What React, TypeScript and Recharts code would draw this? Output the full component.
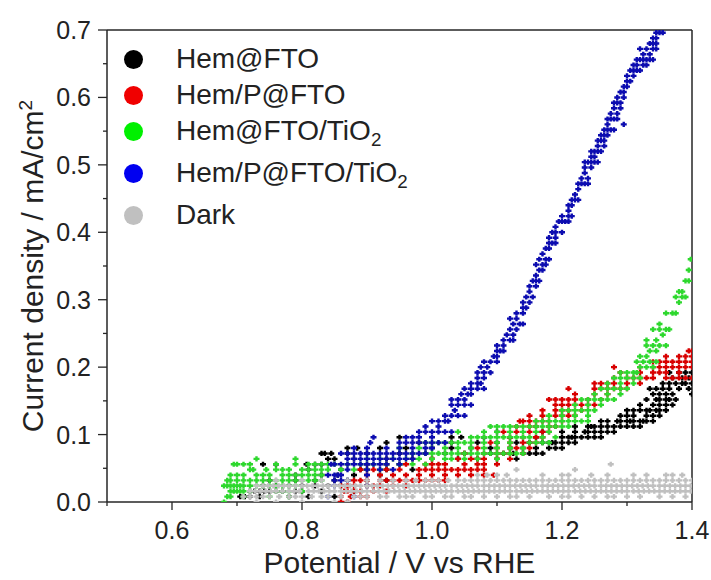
import React from "react";
import { ScatterChart, Scatter, XAxis, YAxis, ReferenceLine } from "recharts";

const FONT = "Arial, 'Liberation Sans', sans-serif";
const AXIS = "#262626";

const X_TICKS = [0.5, 0.6, 0.7, 0.8, 0.9, 1.0, 1.1, 1.2, 1.3, 1.4];
const Y_TICKS = [0, 0.05, 0.1, 0.15, 0.2, 0.25, 0.3, 0.35, 0.4, 0.45, 0.5, 0.55, 0.6, 0.65, 0.7];

const SERIES_NAMES = ["Hem@FTO", "Hem/P@FTO", "Hem@FTO/TiO2", "Hem/P@FTO/TiO2", "Dark"];
const MARKER_COLORS = ["#000000", "#d80000", "#2ed82e", "#0c0cb0", "#c0c0c0"];
const LEGEND_COLORS = ["#000000", "#f00000", "#00f000", "#0000f0", "#c0c0c0"];

// each row: [current density level, potentials read at that level]
const hemFto: [number, number[]][] = [
  [0.008, [0.705, 0.712, 0.72, 0.735, 0.78, 0.81, 0.85]],
  [0.016, [0.72, 0.727, 0.735, 0.742, 0.75, 0.76, 0.77, 0.79, 0.8, 0.83, 0.88]],
  [0.024, [0.74, 0.76, 0.78, 0.8, 0.82, 0.84, 0.86, 0.9]],
  [0.032, [0.75, 0.79, 0.82, 0.85, 0.87, 0.9, 0.93]],
  [0.04, [0.79, 0.83, 0.855, 0.88, 0.92]],
  [0.048, [0.81, 0.86, 0.89, 0.93, 0.97]],
  [0.056, [0.74, 0.76, 0.807, 0.82, 0.83, 0.9, 0.95]],
  [0.064, [0.84, 0.85, 0.88, 0.93, 0.97, 1.0, 1.04, 1.07, 1.1, 1.13]],
  [0.072, [0.83, 0.835, 0.845, 0.87, 0.9, 0.95, 0.99, 1.02, 1.05, 1.09, 1.11, 1.125, 1.14, 1.15, 1.16, 1.17]],
  [0.08, [0.87, 0.885, 0.92, 0.96, 1.0, 1.03, 1.06, 1.09, 1.12, 1.14, 1.16, 1.18, 1.19, 1.2]],
  [0.088, [0.93, 0.98, 1.03, 1.07, 1.1, 1.13, 1.15, 1.17, 1.18, 1.185, 1.19, 1.2, 1.21, 1.22]],
  [0.096, [0.95, 1.03, 1.045, 1.08, 1.12, 1.16, 1.2, 1.21, 1.215, 1.22, 1.23, 1.24, 1.25, 1.26]],
  [0.104, [1.1, 1.17, 1.2, 1.22, 1.235, 1.24, 1.25, 1.26, 1.27, 1.28]],
  [0.112, [1.22, 1.24, 1.245, 1.25, 1.26, 1.27, 1.28, 1.29, 1.3, 1.31, 1.32]],
  [0.12, [1.26, 1.27, 1.285, 1.29, 1.3, 1.305, 1.31, 1.32, 1.325, 1.33, 1.34]],
  [0.128, [1.29, 1.3, 1.31, 1.33, 1.34, 1.35]],
  [0.136, [1.3, 1.31, 1.32, 1.33, 1.335, 1.345, 1.35, 1.36]],
  [0.144, [1.32, 1.34, 1.35, 1.36, 1.37]],
  [0.152, [1.33, 1.345, 1.35, 1.36, 1.365, 1.375]],
  [0.16, [1.34, 1.35, 1.36, 1.37, 1.4]],
  [0.168, [1.335, 1.345, 1.355, 1.365, 1.38, 1.395]],
  [0.176, [1.355, 1.365, 1.375, 1.385, 1.39, 1.4]],
  [0.184, [1.37, 1.385, 1.395, 1.4]],
  [0.192, [1.365, 1.38, 1.39, 1.4]],
];

const hemPFto: [number, number[]][] = [
  [0.0, [0.86, 0.87]],
  [0.008, [0.86, 0.875, 0.89, 0.9]],
  [0.016, [0.865, 0.87, 0.88, 0.89, 0.91, 0.93]],
  [0.024, [0.86, 0.87, 0.88, 0.9, 0.91, 0.92, 0.94, 0.96]],
  [0.032, [0.88, 0.89, 0.9, 0.92, 0.93, 0.94, 0.95, 0.96, 0.97, 0.98, 0.99, 1.0, 1.01, 1.02]],
  [0.04, [0.9, 0.92, 0.94, 0.96, 0.98, 1.0, 1.02, 1.04, 1.06, 1.08, 1.095]],
  [0.048, [0.89, 0.9, 0.91, 0.93, 0.95, 0.98, 0.99, 1.0, 1.01, 1.02, 1.03, 1.04, 1.05, 1.06, 1.07, 1.08]],
  [0.056, [0.93, 0.96, 0.99, 1.0, 1.01, 1.02, 1.05, 1.07, 1.08, 1.1]],
  [0.064, [1.0, 1.04, 1.06, 1.07, 1.08, 1.1, 1.12]],
  [0.072, [1.05, 1.08, 1.1, 1.11, 1.12, 1.14]],
  [0.08, [1.07, 1.1, 1.12, 1.13, 1.15]],
  [0.088, [1.09, 1.12, 1.14, 1.15, 1.16]],
  [0.096, [1.12, 1.14, 1.16, 1.17]],
  [0.104, [1.11, 1.13, 1.15, 1.17, 1.18]],
  [0.112, [1.13, 1.15, 1.16, 1.18, 1.19]],
  [0.12, [1.135, 1.14, 1.15, 1.16, 1.17, 1.18, 1.2]],
  [0.128, [1.15, 1.17, 1.19, 1.2, 1.21, 1.22]],
  [0.136, [1.17, 1.19, 1.2, 1.21, 1.23]],
  [0.144, [1.19, 1.2, 1.21, 1.22, 1.23, 1.24, 1.25]],
  [0.152, [1.18, 1.19, 1.2, 1.21, 1.22, 1.24, 1.26]],
  [0.16, [1.22, 1.25, 1.27]],
  [0.168, [1.21, 1.25, 1.26, 1.27, 1.28, 1.29, 1.3]],
  [0.176, [1.25, 1.26, 1.27, 1.28, 1.3, 1.32]],
  [0.184, [1.28, 1.3, 1.31, 1.32, 1.33, 1.34, 1.36, 1.37, 1.38, 1.39, 1.4]],
  [0.192, [1.29, 1.32, 1.34, 1.35, 1.36, 1.38]],
  [0.2, [1.28, 1.32, 1.34, 1.35, 1.36, 1.37, 1.38, 1.39, 1.4]],
  [0.208, [1.34, 1.35, 1.36, 1.37, 1.38, 1.39, 1.4]],
  [0.216, [1.36, 1.38, 1.39, 1.4]],
  [0.224, [1.395, 1.4]],
];

const hemFtoTiO2: [number, number[]][] = [
  [0.0, [0.68]],
  [0.008, [0.685, 0.69, 0.71, 0.75, 0.78]],
  [0.016, [0.69, 0.695, 0.7, 0.705, 0.71, 0.72, 0.76, 0.77, 0.78, 0.8]],
  [0.024, [0.68, 0.685, 0.69, 0.695, 0.7, 0.705, 0.71, 0.72, 0.73, 0.74, 0.75, 0.76, 0.77, 0.78, 0.79]],
  [0.032, [0.685, 0.69, 0.7, 0.71, 0.72, 0.73, 0.74, 0.75, 0.76, 0.77, 0.78, 0.79, 0.8, 0.81, 0.82, 0.83]],
  [0.04, [0.69, 0.7, 0.71, 0.73, 0.74, 0.75, 0.77, 0.78, 0.79, 0.8, 0.81, 0.82, 0.83]],
  [0.048, [0.72, 0.725, 0.745, 0.76, 0.77, 0.78, 0.8, 0.81, 0.82, 0.83, 0.84, 0.86, 0.88, 0.9, 0.92]],
  [0.056, [0.695, 0.7, 0.71, 0.72, 0.76, 0.79, 0.81, 0.82, 0.83, 0.84, 0.85, 0.87, 0.89, 0.91, 0.93, 0.95, 0.97, 0.99]],
  [0.064, [0.73, 0.79, 0.9, 0.92, 0.94, 0.96, 0.98, 1.0, 1.02, 1.03, 1.05, 1.07, 1.1]],
  [0.072, [0.97, 0.99, 1.0, 1.01, 1.02, 1.03, 1.04, 1.05, 1.06, 1.07, 1.08, 1.09, 1.1, 1.11, 1.12, 1.13, 1.14]],
  [0.08, [0.95, 0.98, 1.0, 1.02, 1.04, 1.06, 1.08, 1.1, 1.12, 1.14]],
  [0.088, [0.99, 1.0, 1.01, 1.02, 1.03, 1.04, 1.05, 1.06, 1.08, 1.1, 1.12, 1.15, 1.16, 1.17, 1.18]],
  [0.096, [1.06, 1.07, 1.08, 1.09, 1.1, 1.11, 1.12, 1.13, 1.14, 1.15, 1.17, 1.19]],
  [0.104, [1.04, 1.08, 1.1, 1.12, 1.14, 1.16, 1.18]],
  [0.112, [1.09, 1.1, 1.11, 1.12, 1.13, 1.14, 1.15, 1.16, 1.17, 1.18, 1.19, 1.2, 1.21]],
  [0.12, [1.16, 1.17, 1.18, 1.19, 1.2, 1.21, 1.22, 1.23, 1.24]],
  [0.128, [1.18, 1.2, 1.22, 1.24]],
  [0.136, [1.2, 1.21, 1.22, 1.23, 1.24, 1.25]],
  [0.144, [1.22, 1.24, 1.26]],
  [0.152, [1.23, 1.24, 1.25, 1.26, 1.27, 1.28]],
  [0.16, [1.25, 1.27, 1.29]],
  [0.168, [1.26, 1.27, 1.28, 1.29, 1.3]],
  [0.176, [1.27, 1.29, 1.31]],
  [0.184, [1.28, 1.29, 1.3, 1.31, 1.32]],
  [0.192, [1.29, 1.3, 1.31, 1.315]],
  [0.2, [1.32, 1.33, 1.34]],
  [0.208, [1.315, 1.325, 1.335, 1.345]],
  [0.216, [1.32, 1.33]],
  [0.224, [1.335, 1.345]],
  [0.232, [1.33, 1.34, 1.35, 1.36]],
  [0.24, [1.33, 1.345]],
  [0.248, [1.355]],
  [0.256, [1.34, 1.35, 1.36, 1.365]],
  [0.264, [1.35]],
  [0.28, [1.36, 1.37, 1.375]],
  [0.296, [1.38]],
  [0.304, [1.375, 1.385, 1.39]],
  [0.312, [1.38, 1.385]],
  [0.328, [1.39, 1.395]],
  [0.344, [1.395]],
  [0.36, [1.398]],
];

const hemPFtoTiO2: [number, number[]][] = [
  [0.008, [0.84, 0.88]],
  [0.024, [0.85, 0.9]],
  [0.032, [0.85, 0.86, 0.87]],
  [0.04, [0.84, 0.85, 0.855, 0.86, 0.9]],
  [0.048, [0.87, 0.9, 0.92, 0.94]],
  [0.056, [0.845, 0.85, 0.86, 0.87, 0.88, 0.89, 0.9, 0.91, 0.92, 0.93, 0.95]],
  [0.064, [0.87, 0.88, 0.89, 0.9, 0.91, 0.92, 0.93, 0.94, 0.95, 0.96, 0.97]],
  [0.072, [0.86, 0.87, 0.88, 0.89, 0.9, 0.91, 0.92, 0.93, 0.94, 0.95, 0.96, 0.97, 0.98, 0.99]],
  [0.08, [0.88, 0.9, 0.93, 0.95, 0.97, 0.99, 1.0]],
  [0.088, [0.905, 0.95, 0.96, 0.97, 0.98, 0.99, 1.0, 1.01, 1.02]],
  [0.096, [0.91, 0.96, 0.97, 0.98, 1.0]],
  [0.104, [0.98, 0.99, 1.0, 1.01, 1.02, 1.03]],
  [0.112, [0.99, 1.01]],
  [0.12, [1.0, 1.01, 1.02, 1.025]],
  [0.128, [1.02, 1.03, 1.04, 1.05]],
  [0.136, [1.035]],
  [0.144, [1.03, 1.04, 1.05, 1.06]],
  [0.152, [1.03, 1.04, 1.05]],
  [0.16, [1.045, 1.055, 1.06]],
  [0.168, [1.05, 1.06, 1.07, 1.08]],
  [0.176, [1.06, 1.07, 1.075]],
  [0.184, [1.07, 1.08]],
  [0.192, [1.07, 1.08, 1.09]],
  [0.2, [1.075, 1.085]],
  [0.208, [1.08, 1.09, 1.1]],
  [0.216, [1.095, 1.1]],
  [0.224, [1.1, 1.105, 1.11]],
  [0.232, [1.1, 1.11]],
  [0.24, [1.11, 1.12, 1.125]],
  [0.248, [1.115, 1.125]],
  [0.256, [1.12, 1.13]],
  [0.264, [1.125, 1.135, 1.14]],
  [0.272, [1.12, 1.13]],
  [0.28, [1.13, 1.14]],
  [0.288, [1.14, 1.145]],
  [0.296, [1.14, 1.15]],
  [0.304, [1.145, 1.155]],
  [0.312, [1.15]],
  [0.32, [1.15, 1.16]],
  [0.328, [1.155, 1.16, 1.165]],
  [0.336, [1.16]],
  [0.344, [1.165, 1.17]],
  [0.352, [1.16, 1.17, 1.175]],
  [0.36, [1.165, 1.175, 1.18]],
  [0.368, [1.17]],
  [0.376, [1.175, 1.18]],
  [0.384, [1.18, 1.185, 1.19]],
  [0.392, [1.18, 1.19]],
  [0.4, [1.185, 1.19, 1.2]],
  [0.408, [1.19]],
  [0.416, [1.195, 1.2, 1.205, 1.21]],
  [0.424, [1.2, 1.21, 1.215]],
  [0.432, [1.21]],
  [0.44, [1.21, 1.215]],
  [0.448, [1.215, 1.22, 1.225]],
  [0.456, [1.22]],
  [0.464, [1.225]],
  [0.472, [1.225, 1.23, 1.235, 1.24]],
  [0.48, [1.23, 1.24]],
  [0.488, [1.235]],
  [0.496, [1.235, 1.245]],
  [0.504, [1.235, 1.24, 1.245, 1.25, 1.255]],
  [0.512, [1.245, 1.25]],
  [0.52, [1.245, 1.25, 1.255, 1.26]],
  [0.528, [1.255, 1.265]],
  [0.536, [1.255, 1.26, 1.265]],
  [0.544, [1.26, 1.265, 1.27]],
  [0.552, [1.265, 1.27, 1.275, 1.28]],
  [0.56, [1.27, 1.295]],
  [0.568, [1.27, 1.275, 1.28, 1.285]],
  [0.576, [1.275, 1.285]],
  [0.584, [1.28, 1.29]],
  [0.592, [1.28, 1.285, 1.29]],
  [0.6, [1.285, 1.295]],
  [0.608, [1.29, 1.295]],
  [0.616, [1.295, 1.3]],
  [0.624, [1.3, 1.305]],
  [0.632, [1.3, 1.31]],
  [0.64, [1.305, 1.31, 1.315, 1.32]],
  [0.648, [1.31, 1.315, 1.325, 1.33]],
  [0.656, [1.315, 1.32, 1.325, 1.33, 1.335, 1.34]],
  [0.664, [1.325, 1.335]],
  [0.672, [1.32, 1.33, 1.34, 1.345]],
  [0.68, [1.335, 1.34, 1.345]],
  [0.688, [1.34, 1.345]],
  [0.696, [1.345, 1.35, 1.355]],
];

const dark: [number, number[]][] = [
  [0.0, [0.73, 0.76, 0.8, 0.85, 0.87]],
  [0.008, [0.71, 0.72, 0.73, 0.74, 0.75, 0.765, 0.78, 0.79, 0.8, 0.815, 0.83, 0.84, 0.86, 0.88, 0.89, 0.9, 0.92, 0.93, 0.95, 0.96, 0.97, 0.99, 1.0, 1.02, 1.03, 1.05, 1.06, 1.08, 1.1, 1.12, 1.13, 1.15, 1.18, 1.2, 1.21, 1.23, 1.25, 1.27, 1.28, 1.3, 1.32, 1.35, 1.37, 1.39]],
  [0.016, [0.72, 0.728, 0.736, 0.744, 0.752, 0.76, 0.77, 0.78, 0.788, 0.796, 0.81, 0.818, 0.826, 0.834, 0.842, 0.85, 0.86, 0.868, 0.876, 0.884, 0.892, 0.9, 0.91, 0.918, 0.926, 0.934, 0.942, 0.95, 0.958, 0.966, 0.974, 0.982, 0.99, 0.998, 1.006, 1.014, 1.022, 1.03, 1.04, 1.048, 1.056, 1.064, 1.072, 1.08, 1.088, 1.096, 1.104, 1.112, 1.12, 1.13, 1.138, 1.146, 1.154, 1.162, 1.17, 1.178, 1.186, 1.194, 1.202, 1.21, 1.22, 1.228, 1.236, 1.244, 1.252, 1.26, 1.268, 1.276, 1.284, 1.292, 1.3, 1.31, 1.318, 1.326, 1.334, 1.342, 1.35, 1.358, 1.366, 1.374, 1.382, 1.39, 1.398]],
  [0.024, [0.73, 0.74, 0.748, 0.756, 0.764, 0.772, 0.78, 0.79, 0.8, 0.808, 0.816, 0.824, 0.832, 0.84, 0.85, 0.858, 0.866, 0.874, 0.882, 0.89, 0.9, 0.908, 0.916, 0.924, 0.932, 0.94, 0.948, 0.956, 0.964, 0.972, 0.98, 0.988, 0.996, 1.004, 1.012, 1.02, 1.03, 1.038, 1.046, 1.054, 1.062, 1.07, 1.08, 1.088, 1.096, 1.104, 1.112, 1.12, 1.128, 1.136, 1.144, 1.152, 1.16, 1.17, 1.178, 1.186, 1.194, 1.202, 1.21, 1.218, 1.226, 1.234, 1.242, 1.25, 1.26, 1.268, 1.276, 1.284, 1.292, 1.3, 1.308, 1.316, 1.324, 1.332, 1.34, 1.35, 1.358, 1.366, 1.374, 1.382, 1.39, 1.398]],
  [0.032, [0.76, 0.8, 0.83, 0.87, 0.9, 0.92, 0.94, 0.96, 0.975, 0.99, 1.0, 1.01, 1.025, 1.04, 1.05, 1.06, 1.07, 1.08, 1.09, 1.1, 1.11, 1.12, 1.13, 1.14, 1.15, 1.16, 1.17, 1.18, 1.19, 1.2, 1.21, 1.22, 1.23, 1.24, 1.25, 1.26, 1.27, 1.28, 1.29, 1.3, 1.31, 1.32, 1.33, 1.34, 1.35, 1.36, 1.37, 1.38, 1.39, 1.4]],
  [0.04, [1.07, 1.085, 1.1, 1.115, 1.17, 1.2, 1.21, 1.245, 1.27, 1.31, 1.33, 1.36, 1.37, 1.385]],
  [0.048, [1.13, 1.22]],
  [0.056, [1.275]],
];

const SERIES_ROWS = [hemFto, hemPFto, hemFtoTiO2, hemPFtoTiO2, dark];

const toPoints = (rows: [number, number[]][]) =>
  rows.flatMap(([y, xs]) => xs.map((x) => ({ x, y })));

const Cross = (props: any) => {
  const { cx, cy, fill } = props;
  if (cx == null || cy == null) return null;
  return (
    <path
      d={`M${cx - 3},${cy - 1.2}h6v2.4h-6z M${cx - 1.2},${cy - 2.6}h2.4v5.2h-2.4z`}
      fill={fill}
    />
  );
};

const XTick = (props: any) => {
  const { x, y, payload } = props;
  const major = Math.round(payload.value * 10) % 2 === 0;
  return (
    <g>
      <line x1={x} x2={x} y1={y} y2={y + (major ? 8 : 4)} stroke={AXIS} strokeWidth={1.3} />
      {major && (
        <text x={x} y={y + 37} textAnchor="middle" fontSize={25} fontFamily={FONT} fill="#222">
          {payload.value.toFixed(1)}
        </text>
      )}
    </g>
  );
};

const YTick = (props: any) => {
  const { x, y, payload } = props;
  const major = Math.round(payload.value * 100) % 10 === 0;
  return (
    <g>
      <line x1={x} x2={x - (major ? 9 : 4)} y1={y} y2={y} stroke={AXIS} strokeWidth={1.3} />
      {major && (
        <text x={x - 16} y={y + 9} textAnchor="end" fontSize={25} fontFamily={FONT} fill="#222">
          {payload.value.toFixed(1)}
        </text>
      )}
    </g>
  );
};

const YLabel = (props: any) => {
  const { viewBox } = props;
  const x = viewBox.x + 43;
  const y = viewBox.y + viewBox.height / 2;
  return (
    <text
      x={x}
      y={y}
      transform={`rotate(-90, ${x}, ${y})`}
      textAnchor="middle"
      fontSize={30}
      fontFamily={FONT}
      fill="#222"
    >
      Current density / mA/cm<tspan dy={-11} fontSize={19}>2</tspan>
    </text>
  );
};

const XLabel = (props: any) => {
  const { viewBox } = props;
  return (
    <text
      x={viewBox.x + viewBox.width / 2}
      y={viewBox.y + 71}
      textAnchor="middle"
      fontSize={30}
      fontFamily={FONT}
      fill="#222"
    >
      Potential / V vs RHE
    </text>
  );
};

const renderName = (name: string) =>
  name.endsWith("TiO2") ? (
    <>
      {name.slice(0, -1)}
      <span style={{ fontSize: "0.67em", position: "relative", top: "0.3em" }}>2</span>
    </>
  ) : (
    name
  );

const LEGEND_Y = [59, 95, 131, 173, 215];

export default function App() {
  return (
    <div style={{ position: "absolute", left: 0, top: 0, width: 711, height: 580, background: "#fff" }}>
      <ScatterChart width={711} height={580} margin={{ top: 30, right: 19, bottom: 0, left: 0 }}>
        <XAxis
          type="number"
          dataKey="x"
          domain={[0.5, 1.4]}
          ticks={X_TICKS}
          interval={0}
          height={78}
          tickSize={0}
          tickMargin={0}
          tickLine={false}
          tick={<XTick />}
          axisLine={{ stroke: AXIS, strokeWidth: 1.5 }}
          allowDataOverflow
          label={<XLabel />}
        />
        <YAxis
          type="number"
          dataKey="y"
          domain={[0, 0.7]}
          ticks={Y_TICKS}
          interval={0}
          width={107}
          tickSize={0}
          tickMargin={0}
          tickLine={false}
          tick={<YTick />}
          axisLine={{ stroke: AXIS, strokeWidth: 1.5 }}
          allowDataOverflow
          label={<YLabel />}
        />
        <ReferenceLine y={0.7} stroke={AXIS} strokeWidth={1.5} />
        <ReferenceLine x={1.4} stroke={AXIS} strokeWidth={1.5} />
        {SERIES_ROWS.map((rows, i) => (
          <Scatter
            key={SERIES_NAMES[i]}
            name={SERIES_NAMES[i]}
            data={toPoints(rows)}
            fill={MARKER_COLORS[i]}
            shape={<Cross />}
            isAnimationActive={false}
          />
        ))}
      </ScatterChart>
      {SERIES_NAMES.map((name, i) => (
        <div
          key={name}
          style={{
            position: "absolute",
            left: 124,
            top: LEGEND_Y[i] - 18,
            height: 36,
            display: "flex",
            alignItems: "center",
            whiteSpace: "nowrap",
            fontFamily: FONT,
            fontSize: 28,
            color: "#222",
          }}
        >
          <span
            style={{
              display: "inline-block",
              width: 19,
              height: 19,
              borderRadius: "50%",
              background: LEGEND_COLORS[i],
              marginRight: 33,
            }}
          />
          <span>{renderName(name)}</span>
        </div>
      ))}
    </div>
  );
}
